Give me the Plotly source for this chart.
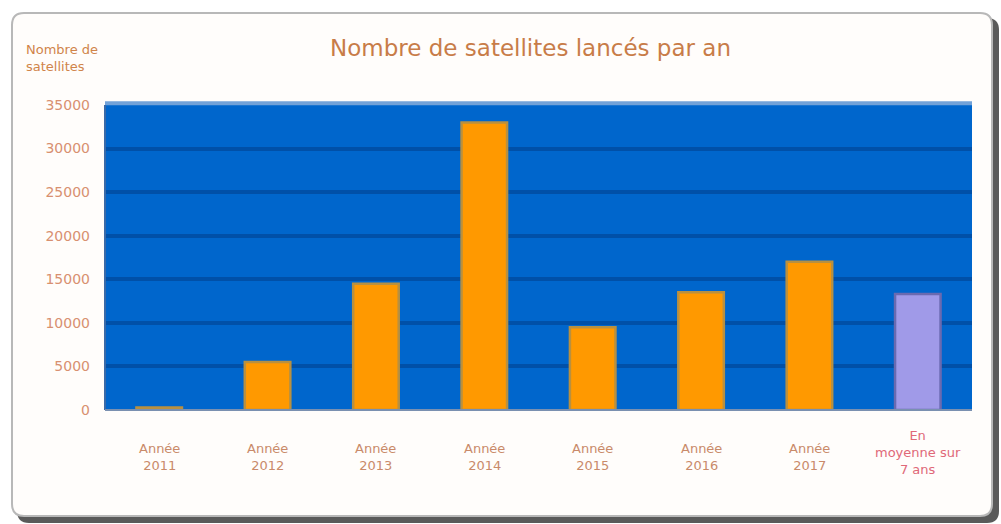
import plotly.graph_objects as go

# Categories and values
categories = ["Année<br>2011", "Année<br>2012", "Année<br>2013", "Année<br>2014",
              "Année<br>2015", "Année<br>2016", "Année<br>2017",
              "En<br>moyenne sur<br>7 ans"]
values = [300, 5500, 14500, 33000, 9500, 13500, 17000, 13300]
bar_colors = ["#ff9900"] * 7 + ["#a09ae8"]
line_colors = ["#b89040"] * 7 + ["#6a6ab0"]
tick_vals = [0, 5000, 10000, 15000, 20000, 25000, 30000, 35000]
tick_text = ["0", "5000", "10000", "15000", "20000", "25000", "30000", "35000"]
label_colors = ["#c98a6a"] * 7 + ["#e06878"]

W, H = 1001, 524
ML, MR, MT, MB = 105, 29, 105, 114
PW, PH = W - ML - MR, H - MT - MB


def px(x):
    return (x - ML) / PW


def py(y):
    return (H - MB - y) / PH


def rounded_rect(x0, y0, x1, y1, r):
    # Rounded rectangle path in paper coordinates built from pixel corners
    pts = [
        f"M {px(x0 + r)},{py(y0)}",
        f"L {px(x1 - r)},{py(y0)}",
        f"Q {px(x1)},{py(y0)} {px(x1)},{py(y0 + r)}",
        f"L {px(x1)},{py(y1 - r)}",
        f"Q {px(x1)},{py(y1)} {px(x1 - r)},{py(y1)}",
        f"L {px(x0 + r)},{py(y1)}",
        f"Q {px(x0)},{py(y1)} {px(x0)},{py(y1 - r)}",
        f"L {px(x0)},{py(y0 + r)}",
        f"Q {px(x0)},{py(y0)} {px(x0 + r)},{py(y0)}",
        "Z",
    ]
    return " ".join(pts)


fig = go.Figure()
fig.add_trace(go.Bar(
    x=list(range(len(categories))),
    y=values,
    width=0.42,
    marker=dict(color=bar_colors, line=dict(color=line_colors, width=2.5)),
    hoverinfo="skip",
))

shapes = [
    # drop shadow of the frame
    dict(type="path", xref="paper", yref="paper", layer="below",
         path=rounded_rect(17, 18, 999, 523, 12),
         fillcolor="#5a5a5a", line=dict(width=0)),
    # frame
    dict(type="path", xref="paper", yref="paper", layer="below",
         path=rounded_rect(12, 13, 992, 516, 12),
         fillcolor="#fffdfb", line=dict(color="#b8b8b8", width=2)),
    # plot area background
    dict(type="rect", xref="paper", yref="paper", layer="below",
         x0=0, x1=1, y0=0, y1=1, fillcolor="#0066cc", line=dict(width=0)),
    # plot area border on top, left and bottom
    dict(type="line", xref="paper", yref="paper", x0=0, x1=1, y0=1.006, y1=1.006,
         line=dict(color="#72a2d8", width=4)),
    dict(type="line", xref="paper", yref="paper", x0=0, x1=0, y0=0, y1=1,
         line=dict(color="#3a6aa8", width=2)),
    dict(type="line", xref="paper", yref="paper", x0=0, x1=1, y0=0, y1=0,
         line=dict(color="#7a90b0", width=2)),
]

annotations = [
    dict(text="Nombre de<br>satellites", xref="paper", yref="paper",
         x=px(24), y=py(40), xanchor="left", yanchor="top", align="left",
         showarrow=False, font=dict(size=13, color="#d0844a", family="DejaVu Sans")),
]
for i, (cat, col) in enumerate(zip(categories, label_colors)):
    annotations.append(dict(
        text=cat, x=i, xref="x", y=py(457 if i < 7 else 452), yref="paper",
        xanchor="center", yanchor="middle", showarrow=False, align="center",
        font=dict(size=13, color=col, family="DejaVu Sans")))

fig.update_layout(
    width=W, height=H,
    margin=dict(l=ML, r=MR, t=MT, b=MB),
    paper_bgcolor="white",
    plot_bgcolor="#0066cc",
    showlegend=False,
    bargap=0.5,
    title=dict(text="Nombre de satellites lancés par an", x=0.53, xanchor="center",
               y=1 - 48 / H, yanchor="middle",
               font=dict(size=23, color="#c87c48", family="DejaVu Sans")),
    xaxis=dict(range=[-0.5, len(categories) - 0.5], showticklabels=False,
               showgrid=False, zeroline=False, ticks=""),
    yaxis=dict(range=[0, 35000], tickvals=tick_vals, ticktext=tick_text,
               showgrid=True, gridcolor="#0050a8", gridwidth=4, zeroline=False,
               ticks="", ticklabelstandoff=14,
               tickfont=dict(size=14, color="#d89070", family="DejaVu Sans")),
    shapes=shapes,
    annotations=annotations,
)

fig.write_html("out.html")
